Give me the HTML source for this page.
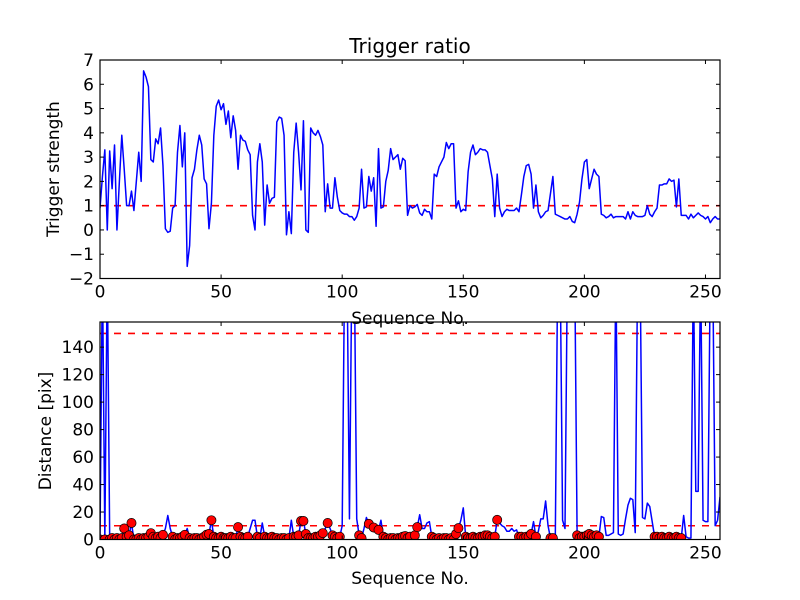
<!DOCTYPE html>
<html><head><meta charset="utf-8"><style>
html,body{margin:0;padding:0;background:#fff;}
svg{display:block;font-family:"DejaVu Sans","Liberation Sans",sans-serif;}
</style></head><body>
<svg id="chart" width="800" height="600" viewBox="0 0 800 600" xmlns="http://www.w3.org/2000/svg">
<rect x="0" y="0" width="800" height="600" fill="#fff"/>
<defs>
<clipPath id="clipTop"><rect x="100" y="60" width="620" height="218.5"/></clipPath>
<clipPath id="clipBot"><rect x="100" y="322" width="620" height="217.5"/></clipPath>
</defs>
<g id="top"></g>
<g id="bot"></g>
<text x="410" y="53" font-size="20" text-anchor="middle">Trigger ratio</text>
<text x="410" y="324" font-size="17" text-anchor="middle">Sequence No.</text>
<text x="59" y="169" font-size="17" text-anchor="middle" transform="rotate(-90 59 169)">Trigger strength</text>
<text x="410" y="584" font-size="17" text-anchor="middle">Sequence No.</text>
<text x="51" y="431" font-size="17" text-anchor="middle" transform="rotate(-90 51 431)">Distance [pix]</text>
</svg>
<script>
const ratio = [0.9,2.2,3.3,0,3.25,1.7,3.5,0,2.0,3.9,2.5,1,1,1.6,0.8,2.0,3.2,2,6.55,6.3,5.9,2.9,2.8,3.75,3.55,4.2,2.65,0.05,-0.1,-0.05,
0.9,1.0,3.2,4.3,2.6,4.0,-1.5,-0.65,2.15,2.5,3.3,3.9,3.5,2.1,1.9,0.05,1.1,3.9,5.1,5.35,
4.95,5.2,4.35,4.9,3.8,4.7,4.1,2.5,3.9,3.7,3.65,3.3,3.1,0.6,0.0,2.8,3.55,2.8,0.2,1.85,
1.1,1.3,1.35,4.45,4.65,4.6,3.9,-0.2,0.75,-0.15,3.2,4.4,3.2,1.65,4.5,0.0,-0.1,4.2,4.0,3.9,
4.1,3.85,3.5,0.75,1.9,0.9,0.9,2.15,1.35,0.8,0.7,0.65,0.65,0.55,0.55,0.4,0.55,0.9,2.5,0.9,
0.95,2.2,1.6,2.15,0.15,3.35,0.9,0.95,2.0,2.45,3.35,2.9,3.0,3.1,2.5,2.95,2.85,0.6,1.0,0.9,
0.95,1.05,0.7,0.6,0.85,0.75,0.75,0.45,2.3,2.2,2.6,2.8,3.0,3.6,3.35,3.55,3.55,0.9,1.2,0.75,
0.85,0.8,2.4,3.2,3.5,3.1,3.2,3.35,3.3,3.3,3.2,2.65,2.1,0.55,2.3,0.9,0.55,0.75,0.85,0.8,
0.8,0.8,0.9,0.75,1.45,2.2,2.65,2.7,2.3,0.9,1.85,0.75,0.5,0.6,0.75,0.8,1.5,2.2,0.65,0.6,
0.55,0.5,0.45,0.45,0.55,0.35,0.3,0.65,1.15,2.1,2.8,2.9,1.7,2.1,2.5,2.3,2.2,0.65,0.6,0.5,
0.55,0.65,0.5,0.55,0.55,0.55,0.55,0.45,0.75,0.45,0.75,0.6,0.55,0.55,0.55,0.6,1.0,0.65,0.55,0.75,
0.9,1.85,1.85,1.9,1.9,2.1,2.0,2.05,0.95,2.1,0.6,0.6,0.6,0.45,0.65,0.5,0.6,0.7,0.6,0.55,
0.45,0.55,0.3,0.45,0.55,0.45,0.45];
const dist = [0,200,0,200,0,1,0,1,0,1, 8,2,3,12,0,0,1,0,1,1,
2,4.6,2,1,2,1,3.4,8,17.5,8, 2,0,1,1,2,3.4,8,1,0,1,
1,0,1,2,3.5,4,14,2,1,1, 2,1,1,1,2,1,1,9,2,1,
1,2,8,14,14,2,1,12,2,1, 1,2,1,1,0,1,1,0,1,14,
2,2,3,13.5,13.5,4,1,1,1,2, 2,3,4.6,8,12,8,3,2,1,2,
10,200,200,15,200,200,15,3,1,8, 16,11.4,8,8.7,8,7,14,2,1,0,
1,1,0,1,1,2,2.5,1,2,4, 3,9,18,8,8,12,13,2,1,0,
1,0,1,1,0,1,0,4,8.3,14, 23,2,1,1,2,1,1,2,2,3,
3,2,1,2,14.3,12,10,9,6,6, 8,6,7,2,2,1,2,2,4,13,
2,6,15,15,28,10,1,1,2,200, 200,14,8,200,200,200,200,3,1,2,
2,3,4,3,2,3,2,16.7,16,3, 3,4,5,200,4,3,4,15,25,30,
29,5,200,200,16,15,26.5,24,13,2, 2,1,2,1,1,2,1,1,2,1,
1,17.5,2,1,1,200,35,35,200,14, 13,13,200,200,10,14,31];
const markerIdx = [0,2,4,5,6,7,8,9,10,11,12,13,14,15,16,17,18,19,20,21,22,23,24,25,26,30,31,32,33,34,35,37,38,39,40,41,42,43,44,45,46,47,48,49,50,51,52,53,54,55,56,57,58,59,60,61,65,66,68,69,70,71,72,73,74,75,76,77,78,80,81,82,83,84,85,86,87,88,89,90,91,92,94,96,97,98,99,107,108,111,113,115,117,118,119,120,121,122,123,124,125,126,127,128,130,131,137,138,139,140,141,142,143,144,145,146,147,148,151,152,153,154,155,156,157,158,159,160,161,162,163,164,173,174,175,176,177,178,180,186,187,197,198,199,200,201,202,203,204,205,206,229,230,231,232,233,234,235,236,237,238,239,240];
const topTicksY = [-2,-1,0,1,2,3,4,5,6,7];
const botTicksY = [0,20,40,60,80,100,120,140];
const ticksX = [0,50,100,150,200,250];
const topThreshold = [1];
const botThresholds = [150,10];

const NS = "http://www.w3.org/2000/svg";
const X0=100, X1=720, XMAX=256;
function sx(v){return X0 + v/XMAX*(X1-X0);}
function syTop(v){return 278.5 - (v+2)/9*218.5;}
function syBot(v){return 539.5 - v/158.3*217.5;}
function mk(tag, attrs, parent){const e=document.createElementNS(NS,tag);for(const k in attrs)e.setAttribute(k,attrs[k]);parent.appendChild(e);return e;}

function drawAxes(g, y0, y1, sy, yticks, clip, series, thresholds, markers, prefix){
  const lg = mk('g',{'clip-path':'url(#'+clip+')'},g);
  thresholds.forEach(t=>{
    const l=mk('line',{x1:X0,x2:X1,y1:sy(t),y2:sy(t),stroke:'#ff0000','stroke-width':1.6,'stroke-dasharray':'7,7'},lg);
    
    
  });
  const d = series.map((v,i)=>(i?'L':'M')+sx(i).toFixed(2)+','+sy(Math.min(v,400)).toFixed(2)).join('');
  const p=mk('path',{d:d,fill:'none',stroke:'#0000ff','stroke-width':1.5,'stroke-linejoin':'round'},lg);
  
  
  if(markers){
    markers.forEach(i=>{
      const c=mk('circle',{cx:sx(i),cy:sy(series[i]),r:4.6,fill:'#ff0000',stroke:'#000','stroke-width':0.7},lg);
      
      
    });
  }
  mk('rect',{x:X0,y:y0,width:X1-X0,height:y1-y0,fill:'none',stroke:'#000','stroke-width':1.2},g);
  yticks.forEach(t=>{
    const y=sy(t);
    mk('line',{x1:X0,x2:X0+4,y1:y,y2:y,stroke:'#000'},g);
    mk('line',{x1:X1-4,x2:X1,y1:y,y2:y,stroke:'#000'},g);
    const tx=mk('text',{x:X0-6,y:y+6,'font-size':17,'text-anchor':'end'},g);
    tx.textContent = t<0 ? '\u2212'+Math.abs(t) : String(t);
    
    
  });
  ticksX.forEach(t=>{
    const x=sx(t);
    mk('line',{x1:x,x2:x,y1:y1,y2:y1-4,stroke:'#000'},g);
    mk('line',{x1:x,x2:x,y1:y0,y2:y0+4,stroke:'#000'},g);
    const tx=mk('text',{x:x,y:y1+19,'font-size':17,'text-anchor':'middle'},g);
    tx.textContent=String(t);
    
    
  });
}
drawAxes(document.getElementById('top'),60,278.5,syTop,topTicksY,'clipTop',ratio,topThreshold,null,'top');
drawAxes(document.getElementById('bot'),322,539.5,syBot,botTicksY,'clipBot',dist,botThresholds,markerIdx,'bottom');
</script>
</body></html>
